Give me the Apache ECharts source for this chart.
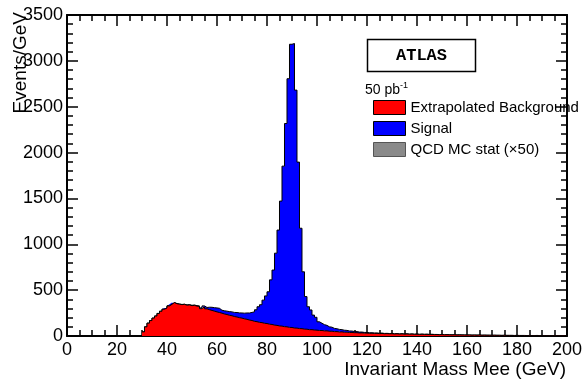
<!DOCTYPE html>
<html><head><meta charset="utf-8">
<script src="https://cdn.jsdelivr.net/npm/echarts@6/dist/echarts.min.js"></script>
<style>html,body{margin:0;padding:0;background:#fff}#c{width:585px;height:383px}</style>
</head><body><div id="c"></div>
<script>
// Histogram binning (GeV): 1 GeV bins starting at 30 GeV
const firstBinEdge = 30;
const binWidth = 1;

// Extrapolated Background, Events/GeV, bins 30..199
const background = [
  45,100,140,168,195,218,246,270,292,305,
  328,345,364,352,347,342,345,336,339,331,
  334,326,322,298,318,296,287,279,271,263,
  256,249,240,234,226,221,212,207,200,195,
  187,182,174,169,160,156,149,146,139,136,
  129,126,119,116,110,108,102,100,94,93,
  87,86,81,80,75,74,69,69,65,64,
  60,60,56,56,52,52,48,48,44,45,
  41,42,38,39,36,36,33,34,31,32,
  29,30,28,29,26,28,25,26,24,25,
  22,24,21,23,20,22,19,21,18,20,
  17,19,17,18,16,17,15,16,14,15,
  13,14,13,12,13,11,12,11,11,10,
  11,9,10,9,10,8,9,8,8,7,
  8,7,7,6,7,6,6,6,5,6,
  5,5,5,4,5,4,4,5,4,4,
  4,3,4,3,3,3,3,3,2,3
];

// Signal, Events/GeV, bins 30..199 (stacked on background)
const signal = [
  0,0,0,0,0,0,0,0,0,0,
  1,1,1,2,2,2,2,3,3,4,
  4,5,6,8,10,15,27,34,38,43,
  46,32,35,37,40,42,45,49,52,56,
  62,69,77,88,104,130,170,195,252,301,
  353,486,600,787,1045,1363,1750,2217,2711,3088,
  3102,2595,1815,1095,625,356,250,215,163,140,
  95,79,68,60,48,44,35,31,28,24,
  22,19,17,15,13,12,10,9,8,7,
  6,5,5,4,4,4,3,3,3,3,
  2,2,2,2,2,2,2,2,2,2,
  2,2,2,2,2,2,2,1,1,1,
  1,1,1,1,1,1,1,1,1,1,
  1,1,1,1,1,1,1,1,1,1,
  1,1,1,1,1,1,1,1,1,1,
  1,1,1,1,1,1,1,1,1,1,
  1,1,1,1,1,1,1,1,1,1
];

const seriesNames = ['Extrapolated Background', 'Signal', 'QCD MC stat (\u00d750)'];
const xRange = [0, 200], xStep = 20;
const yRange = [0, 3500], yStep = 500;

// points stored as [value, binLowEdge]; encode maps column 1 -> x, column 0 -> y
function stepPoints(vals) {
  const pts = vals.map((v, i) => [v, firstBinEdge + i * binWidth]);
  pts.push([vals[vals.length - 1], firstBinEdge + vals.length * binWidth]);
  return pts;
}

const FONT = 'Liberation Sans';
const axisCommon = (show) => ({
  axisLine: { show: true, onZero: false, lineStyle: { color: '#000', width: 2 } },
  axisTick: { show: true, inside: true, length: 11, lineStyle: { color: '#000', width: 1.5 } },
  minorTick: { show: true, length: 6, lineStyle: { color: '#000', width: 1.5 } },
  splitLine: { show: false },
  axisLabel: { show: show, color: '#000', fontSize: 18, fontFamily: FONT, showMinLabel: true, showMaxLabel: true,
    formatter: (v) => String(v) }
});

const chart = echarts.init(document.getElementById('c'), null, { renderer: 'canvas' });
const xb = axisCommon(true); xb.axisLabel.margin = 5; xb.minorTick.splitNumber = 4;
const xt = axisCommon(false); xt.minorTick.splitNumber = 4;
const yl = axisCommon(true); yl.axisLabel.margin = 4; yl.minorTick.splitNumber = 5;
const yr = axisCommon(false); yr.minorTick.splitNumber = 5;

chart.setOption({
  animation: false,
  backgroundColor: '#fff',
  grid: { left: 67, right: 17, top: 15, bottom: 47 },
  xAxis: [
    Object.assign({ type: 'value', position: 'bottom', min: xRange[0], max: xRange[1], interval: xStep }, xb),
    Object.assign({ type: 'value', position: 'top', min: xRange[0], max: xRange[1], interval: xStep }, xt)
  ],
  yAxis: [
    Object.assign({ type: 'value', position: 'left', min: yRange[0], max: yRange[1], interval: yStep }, yl),
    Object.assign({ type: 'value', position: 'right', min: yRange[0], max: yRange[1], interval: yStep }, yr)
  ],
  legend: {
    orient: 'vertical', left: 368, top: 95, itemWidth: 32, itemHeight: 14, itemGap: 6,
    icon: 'rect', selectedMode: false,
    textStyle: { fontSize: 15, fontFamily: FONT, color: '#000' },
    data: [
      { name: seriesNames[0], itemStyle: { color: '#ff0000', borderColor: '#000', borderWidth: 1 } },
      { name: seriesNames[1], itemStyle: { color: '#0000ff', borderColor: '#000', borderWidth: 1 } },
      { name: seriesNames[2], itemStyle: { color: '#8a8a8a', borderColor: '#555', borderWidth: 1 } }
    ]
  },
  series: [
    {
      name: seriesNames[0], type: 'line', step: 'end', stack: 'total', symbol: 'none', z: 3,
      encode: { x: 1, y: 0 },
      color: '#ff0000',
      lineStyle: { color: '#000', width: 1 },
      areaStyle: { color: '#ff0000', opacity: 1 },
      data: stepPoints(background)
    },
    {
      name: seriesNames[1], type: 'line', step: 'end', stack: 'total', symbol: 'none', z: 2,
      encode: { x: 1, y: 0 },
      color: '#0000ff',
      lineStyle: { color: '#000', width: 1 },
      areaStyle: { color: '#0000ff', opacity: 1 },
      data: stepPoints(signal)
    },
    {
      name: seriesNames[2], type: 'line', symbol: 'none', color: '#8a8a8a', data: []
    }
  ],
  graphic: [
    { type: 'rect', shape: { x: 367.5, y: 39.5, width: 108, height: 32 },
      style: { fill: '#fff', stroke: '#000', lineWidth: 1.5 }, z: 10 },
    { type: 'text', x: 421.5, y: 56, z: 11,
      style: { text: 'ATLAS', font: 'bold 17px "Liberation Mono"', fill: '#000', align: 'center', verticalAlign: 'middle' } },
    { type: 'text', x: 365, y: 90, z: 11,
      style: { text: '50 pb', font: '14px "Liberation Sans"', fill: '#000', align: 'left', verticalAlign: 'middle' } },
    { type: 'text', x: 400, y: 86, z: 11,
      style: { text: '-1', font: '9px "Liberation Sans"', fill: '#000', align: 'left', verticalAlign: 'middle' } },
    { type: 'text', x: 21, y: 12, rotation: Math.PI / 2, z: 11,
      style: { text: 'Events/GeV', font: '19px "Liberation Sans"', fill: '#000', align: 'right', verticalAlign: 'middle' } },
    { type: 'text', x: 566, y: 370, z: 11,
      style: { text: 'Invariant Mass Mee (GeV)', font: '19px "Liberation Sans"', fill: '#000', align: 'right', verticalAlign: 'middle' } }
  ]
});
</script>
</body></html>
